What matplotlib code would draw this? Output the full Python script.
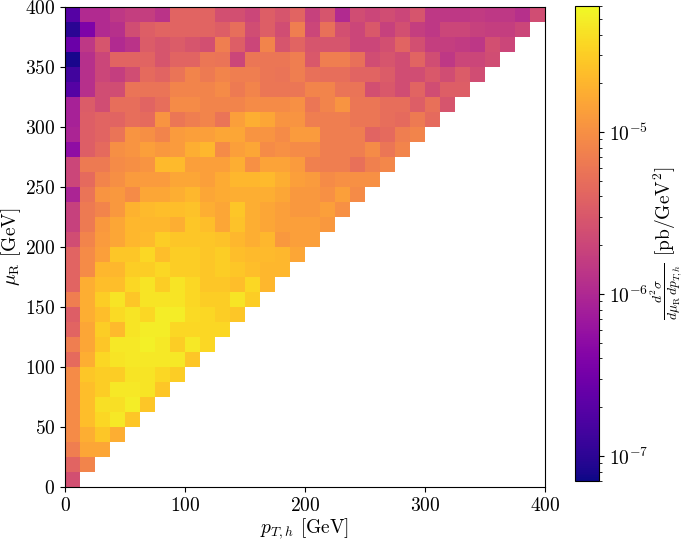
import numpy as np
import matplotlib
matplotlib.use("Agg")
import matplotlib.pyplot as plt
from matplotlib.colors import LogNorm

# ── Data ──────────────────────────────────────────────────────────────────────
# 32 x 32 bins of 12.5 GeV, only bins with pT,h <= muR are populated.
# Each row is one muR bin (bottom -> top), entries are pT,h bins (left -> right),
# values are log10(d2sigma / dmuR dpT,h  [pb/GeV^2]).

PT_EDGES = np.linspace(0, 400, 33)
MUR_EDGES = np.linspace(0, 400, 33)

LOG_XSEC = [
    [-5.60],
    [-5.40, -5.10],
    [-5.16, -4.81, -4.81],
    [-5.04, -4.75, -4.57, -4.75],
    [-5.04, -4.63, -4.46, -4.34, -4.57],
    [-5.04, -4.63, -4.40, -4.40, -4.31, -4.57],
    [-5.04, -4.63, -4.52, -4.34, -4.34, -4.37, -4.57],
    [-5.04, -4.57, -4.52, -4.52, -4.37, -4.37, -4.46, -4.52],
    [-5.34, -4.75, -4.46, -4.37, -4.34, -4.34, -4.34, -4.34, -4.57],
    [-5.16, -4.81, -4.57, -4.34, -4.34, -4.28, -4.34, -4.52, -4.34, -4.46],
    [-5.40, -4.81, -4.52, -4.66, -4.37, -4.31, -4.31, -4.46, -4.46, -4.46, -4.46],
    [-5.45, -4.75, -4.63, -4.43, -4.37, -4.46, -4.31, -4.31, -4.43, -4.46, -4.52,
     -4.57],
    [-5.16, -4.75, -4.52, -4.37, -4.57, -4.37, -4.37, -4.37, -4.46, -4.52, -4.52,
     -4.37, -4.52],
    [-5.40, -4.75, -4.63, -4.63, -4.46, -4.37, -4.52, -4.37, -4.46, -4.57, -4.57,
     -4.63, -4.46, -4.69],
    [-5.40, -5.04, -4.69, -4.69, -4.52, -4.52, -4.46, -4.52, -4.52, -4.57, -4.52,
     -4.57, -4.63, -4.69, -4.69],
    [-5.40, -5.04, -4.87, -4.57, -4.57, -4.46, -4.63, -4.52, -4.52, -4.57, -4.52,
     -4.63, -4.66, -4.66, -4.69, -4.81],
    [-5.63, -5.10, -4.90, -4.81, -4.69, -4.66, -4.52, -4.57, -4.57, -4.57, -4.60,
     -4.69, -4.75, -4.69, -4.93, -4.87, -4.87],
    [-5.75, -5.19, -4.93, -4.81, -4.69, -4.69, -4.69, -4.75, -4.57, -4.63, -4.81,
     -4.60, -4.75, -4.81, -4.87, -4.87, -4.87, -4.93],
    [-5.75, -5.19, -5.10, -4.93, -4.72, -4.66, -4.63, -4.63, -4.60, -4.75, -4.81,
     -4.57, -4.75, -4.81, -4.87, -4.93, -4.93, -4.87, -4.99],
    [-6.04, -5.25, -4.96, -4.93, -5.04, -4.81, -4.81, -4.75, -4.69, -4.81, -4.78,
     -4.75, -4.75, -4.75, -4.81, -4.93, -4.93, -4.99, -4.87, -5.04],
    [-5.69, -5.34, -5.10, -5.01, -4.90, -4.90, -4.90, -4.81, -4.81, -4.87, -4.78,
     -4.69, -4.69, -4.66, -4.75, -4.87, -4.90, -5.04, -4.99, -4.99, -4.99],
    [-5.69, -5.19, -5.19, -5.04, -5.01, -4.96, -4.66, -4.66, -4.87, -4.87, -4.87,
     -4.75, -4.99, -4.84, -4.84, -4.90, -5.13, -5.16, -5.16, -5.28, -5.13, -5.07],
    [-6.28, -5.45, -5.34, -5.01, -4.96, -4.87, -4.93, -4.90, -4.75, -4.69, -5.04,
     -4.87, -4.81, -5.04, -4.99, -5.04, -5.04, -5.16, -5.16, -5.16, -5.04, -5.22,
     -5.10],
    [-6.04, -5.45, -5.40, -5.25, -4.96, -5.01, -5.10, -4.90, -4.87, -4.87, -4.81,
     -4.81, -4.96, -4.96, -5.04, -4.90, -4.90, -5.16, -5.16, -5.16, -5.40, -5.34,
     -5.16, -5.10],
    [-6.07, -5.45, -5.40, -5.40, -5.31, -5.34, -4.96, -5.22, -5.16, -5.10, -5.25,
     -4.87, -4.75, -4.81, -4.96, -4.96, -5.16, -5.16, -5.16, -5.22, -5.22, -5.31,
     -5.34, -5.19, -5.34],
    [-6.07, -5.48, -5.63, -5.31, -5.31, -5.40, -5.31, -5.04, -5.04, -5.10, -5.10,
     -5.10, -5.04, -5.04, -5.04, -4.99, -5.22, -5.10, -4.96, -5.22, -5.22, -5.31,
     -5.31, -5.45, -5.28, -5.54],
    [-6.72, -5.92, -5.63, -5.63, -5.25, -5.25, -5.25, -5.10, -5.10, -5.10, -5.04,
     -5.19, -5.10, -5.22, -5.22, -5.22, -5.10, -5.10, -5.25, -5.25, -5.60, -5.51,
     -5.63, -5.40, -5.63, -5.45, -5.45],
    [-6.86, -5.92, -5.69, -5.78, -5.63, -5.34, -5.40, -5.25, -5.10, -5.19, -5.10,
     -5.16, -5.16, -5.22, -5.25, -5.16, -5.28, -5.31, -5.31, -5.40, -5.40, -5.48,
     -5.63, -5.63, -5.51, -5.63, -5.48, -5.63],
    [-7.10, -5.92, -5.69, -5.40, -5.40, -5.40, -5.54, -5.40, -5.40, -5.22, -5.25,
     -5.69, -5.22, -5.22, -5.22, -5.16, -5.51, -5.16, -5.16, -5.28, -5.63, -5.54,
     -5.63, -5.40, -5.63, -5.84, -5.69, -5.69, -5.63],
    [-6.57, -5.84, -5.54, -5.98, -5.89, -5.48, -5.54, -5.48, -5.54, -5.60, -5.16,
     -5.45, -5.69, -5.10, -5.54, -5.40, -5.54, -5.54, -5.54, -5.69, -5.69, -5.60,
     -5.40, -5.60, -5.78, -5.78, -5.81, -5.86, -5.60, -5.69],
    [-7.01, -6.42, -5.98, -5.92, -5.63, -5.45, -5.40, -5.40, -5.40, -5.40, -5.45,
     -5.31, -5.63, -5.45, -5.63, -5.16, -5.69, -5.28, -5.60, -5.69, -5.51, -5.75,
     -5.60, -5.78, -5.84, -5.69, -5.69, -5.75, -5.78, -5.78, -5.69],
    [-6.72, -5.98, -5.98, -5.84, -5.78, -5.78, -5.89, -5.40, -5.40, -5.40, -5.60,
     -5.60, -5.69, -5.45, -5.54, -5.40, -5.75, -5.54, -5.98, -5.63, -5.69, -5.63,
     -5.69, -5.54, -5.84, -5.84, -5.84, -5.81, -5.84, -5.84, -5.92, -5.63],
]

CBAR_MIN = 7e-8
CBAR_MAX = 6e-5

# ── Style ─────────────────────────────────────────────────────────────────────

plt.rcParams.update({
    "font.family":      "serif",
    "font.serif":       ["cmr10"],
    "mathtext.fontset": "cm",
    "axes.formatter.use_mathtext": True,
    "font.size":        14,
})

# ── Build grid ────────────────────────────────────────────────────────────────

n_bins = len(PT_EDGES) - 1
grid = np.full((n_bins, n_bins), np.nan)
for i, row in enumerate(LOG_XSEC):
    grid[i, :len(row)] = np.power(10.0, row)
grid = np.ma.masked_invalid(grid)

# ── Plot ──────────────────────────────────────────────────────────────────────

fig = plt.figure(figsize=(6.85, 5.42), dpi=100)
ax = fig.add_axes([65 / 685, 55 / 542, 480 / 685, 480 / 542])
cax = fig.add_axes([575 / 685, 61 / 542, 24 / 685, 475 / 542])

mesh = ax.pcolormesh(PT_EDGES, MUR_EDGES, grid, cmap="plasma",
                     norm=LogNorm(vmin=CBAR_MIN, vmax=CBAR_MAX),
                     shading="flat", linewidth=0, antialiased=False)

ax.set_xlim(0, 400)
ax.set_ylim(0, 400)
ax.set_xticks([0, 100, 200, 300, 400])
ax.set_yticks(np.arange(0, 401, 50))
ax.set_xlabel(r"$p_{T,h}$ [GeV]", labelpad=1)
ax.set_ylabel(r"$\mu_{\rm R}$ [GeV]", labelpad=1)

cb = fig.colorbar(mesh, cax=cax)
cb.set_label(r"$\frac{d^2\sigma}{d\mu_{\rm R}\,dp_{T,h}}$ [pb/GeV$^2$]",
             fontsize=14, labelpad=0)
cb.outline.set_linewidth(0.8)

fig.savefig("out.png", dpi=100)
plt.close(fig)
